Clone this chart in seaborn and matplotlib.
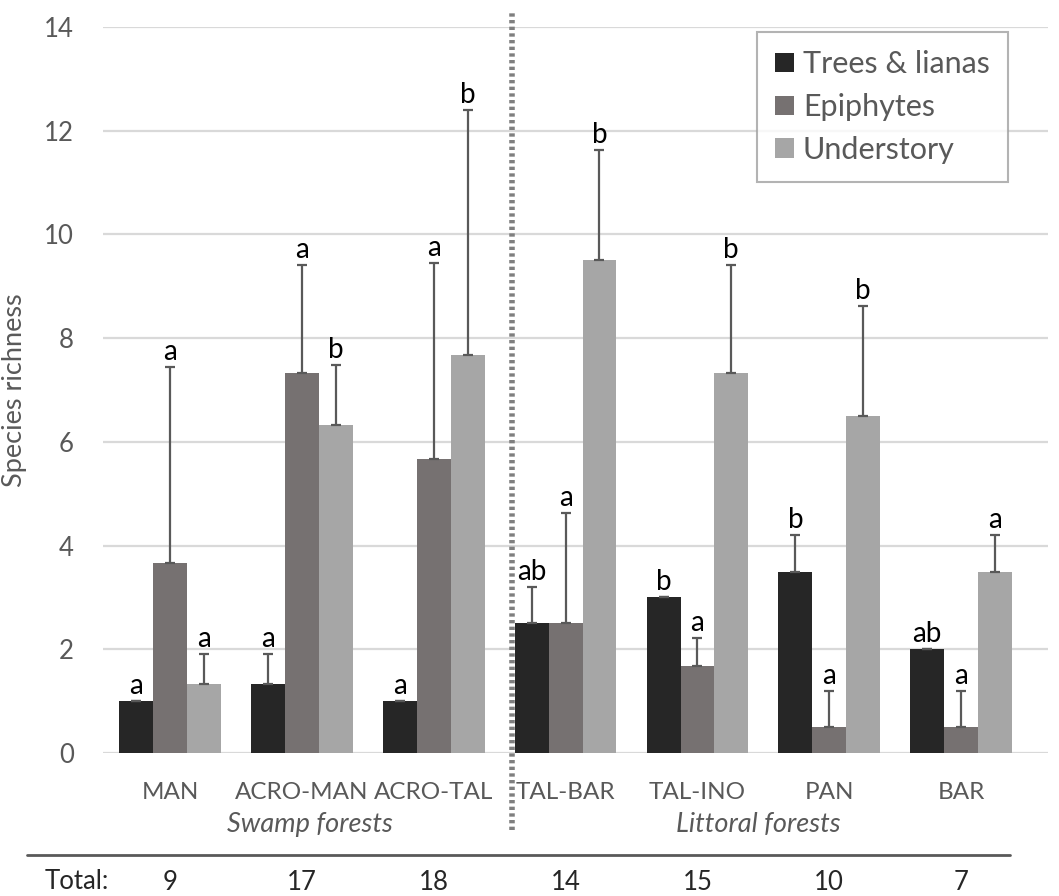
import matplotlib
matplotlib.use("Agg")
import matplotlib.pyplot as plt
import seaborn as sns
import numpy as np
import pandas as pd

# Species richness per forest type (mean + SD)
sites = ["MAN", "ACRO-MAN", "ACRO-TAL", "TAL-BAR", "TAL-INO", "PAN", "BAR"]
groups = ["Trees & lianas", "Epiphytes", "Understory"]
trees = [1.0, 1.33, 1.0, 2.5, 3.0, 3.5, 2.0]
trees_err = [0.0, 0.57, 0.0, 0.7, 0.0, 0.7, 0.0]
epiph = [3.67, 7.33, 5.67, 2.5, 1.67, 0.5, 0.5]
epiph_err = [3.77, 2.08, 3.78, 2.12, 0.55, 0.7, 0.7]
under = [1.33, 6.33, 7.67, 9.5, 7.33, 6.5, 3.5]
under_err = [0.57, 1.15, 4.72, 2.12, 2.08, 2.12, 0.7]
trees_let = ["a", "a", "a", "ab", "b", "b", "ab"]
epiph_let = ["a", "a", "a", "a", "a", "a", "a"]
under_let = ["a", "b", "b", "b", "b", "b", "a"]
totals = [9, 17, 18, 14, 15, 10, 7]
y_ticks = [0, 2, 4, 6, 8, 10, 12, 14]

colors = ["#262626", "#767171", "#a6a6a6"]
grey_txt = "#595959"

df = pd.DataFrame({
    "site": sites * 3,
    "group": np.repeat(groups, len(sites)),
    "richness": trees + epiph + under,
})

sns.set_style("white")
plt.rcParams["font.family"] = ["Lato", "DejaVu Sans"]

fig = plt.figure(figsize=(10.59, 8.96), dpi=100)
ax = fig.add_axes([103 / 1059, (896 - 753) / 896, (1048 - 103) / 1059, (753 - 27) / 896])

sns.barplot(data=df, x="site", y="richness", hue="group", order=sites,
            hue_order=groups, palette=colors, width=0.77, gap=0,
            errorbar=None, saturation=1, linewidth=0, ax=ax, zorder=2)

errs = [trees_err, epiph_err, under_err]
lets = [trees_let, epiph_let, under_let]
for cont, err, let in zip(ax.containers, errs, lets):
    xs = [p.get_x() + p.get_width() / 2 for p in cont.patches]
    hs = [p.get_height() for p in cont.patches]
    ax.errorbar(xs, hs, yerr=[np.zeros(len(err)), err], fmt="none",
                ecolor=grey_txt, elinewidth=1.6, capsize=3.6, capthick=1.6, zorder=3)
    for x, h, e, l in zip(xs, hs, err, let):
        ax.annotate(l, (x, h + e), xytext=(0, 1.5), textcoords="offset points",
                    ha="center", va="bottom", fontsize=20, color="black")

ax.set_ylim(0, 14)
ax.set_xlim(-0.51, 6.66)
ax.set_yticks(y_ticks)
ax.yaxis.grid(True, color="#d9d9d9", lw=1.6, zorder=0)
ax.set_axisbelow(True)
for s in ax.spines.values():
    s.set_visible(False)
ax.tick_params(axis="both", length=0, labelsize=18.5, labelcolor=grey_txt)
ax.tick_params(axis="x", pad=21, labelsize=17.5)
ax.tick_params(axis="y", pad=21)
ax.set_xlabel("")
ax.set_ylabel("Species richness", fontsize=19.5, color=grey_txt, labelpad=12)

# dotted separator between swamp and littoral forests
ax.plot([2.59, 2.59], [-1.48, 14.33], transform=ax.transData, clip_on=False,
        color="#7f7f7f", lw=4, linestyle=(0, (0.6, 0.6)), zorder=1)

ax.text(1.06, -1.37, "Swamp forests", fontsize=19.5, style="italic",
        color=grey_txt, ha="center", va="center")
ax.text(4.46, -1.37, "Littoral forests", fontsize=19.5, style="italic",
        color=grey_txt, ha="center", va="center")

# totals row
fig.add_artist(plt.Line2D([27 / 1059, 1010 / 1059], [1 - 855 / 896] * 2,
                          color=grey_txt, lw=2))
fig.text(45 / 1059, 1 - 881 / 896, "Total:", fontsize=18.5, ha="left", va="center")
for i, t in enumerate(totals):
    ax.text(i, -2.5, str(t), fontsize=18.5, ha="center", va="center")

leg = ax.legend(loc="upper right", bbox_to_anchor=(1008 / 1059, 1 - 32 / 896),
                bbox_transform=fig.transFigure, borderaxespad=0, fontsize=22,
                frameon=True, fancybox=False, edgecolor="#a0a0a0",
                handlelength=0.6, handleheight=0.6, handletextpad=0.3,
                labelspacing=0.48, borderpad=0.6, title=None)
leg.get_frame().set_linewidth(1.5)
for t in leg.get_texts():
    t.set_color(grey_txt)

fig.savefig("out.png", dpi=100)
